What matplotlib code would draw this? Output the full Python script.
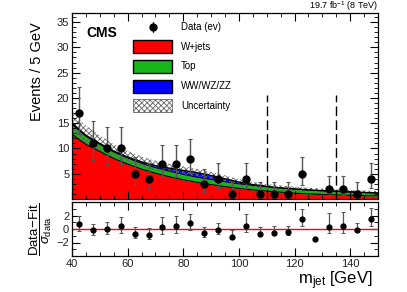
import matplotlib
matplotlib.use('Agg')
import matplotlib.pyplot as plt
from matplotlib.patches import Rectangle
from matplotlib.lines import Line2D
from matplotlib.ticker import MultipleLocator
import numpy as np

plt.rcParams['font.family'] = ['Liberation Sans', 'DejaVu Sans']
plt.rcParams['mathtext.fontset'] = 'custom'
plt.rcParams['mathtext.rm'] = 'Liberation Sans'
plt.rcParams['mathtext.it'] = 'Liberation Sans:italic'
plt.rcParams['hatch.linewidth'] = 0.6

# data in 5 GeV bins
bin_centers = [42.5, 47.5, 52.5, 57.5, 62.5, 67.5, 72.5, 77.5, 82.5, 87.5, 92.5,
               97.5, 102.5, 107.5, 112.5, 117.5, 122.5, 127.5, 132.5, 137.5, 142.5, 147.5]
data_counts = [17, 11, 10, 10, 5, 4, 7, 7, 8, 3, 4, 1, 4, 1, 1, 1, 5, 0, 2, 2, 1, 4]
data_err_lo = [4.12, 3.27, 3.11, 3.11, 2.16, 1.91, 2.58, 2.58, 2.77, 1.63, 1.91,
               0.83, 1.91, 0.83, 0.83, 0.83, 2.16, 0.0, 1.29, 1.29, 0.83, 1.91]
data_err_hi = [5.20, 4.42, 4.27, 4.27, 3.38, 3.16, 3.77, 3.77, 3.95, 2.92, 3.16,
               2.30, 3.16, 2.30, 2.30, 2.30, 3.38, 0.0, 2.64, 2.64, 2.30, 3.16]

# fitted background components
mass_grid = [40, 45, 50, 55, 60, 65, 70, 75, 80, 85, 90, 95, 100, 105, 110, 115,
             120, 125, 130, 135, 140, 145, 150]
wjets = [12.8, 10.8, 9.4, 8.0, 6.9, 5.9, 5.1, 4.4, 3.8, 3.3, 2.85, 2.45, 2.1, 1.8,
         1.55, 1.35, 1.15, 1.0, 0.9, 0.8, 0.72, 0.66, 0.6]
top = [1.9, 1.6, 1.4, 1.3, 1.2, 1.15, 1.1, 1.1, 1.05, 1.0, 1.0, 0.95, 0.9, 0.9,
       0.85, 0.8, 0.8, 0.75, 0.7, 0.7, 0.65, 0.6, 0.56]
diboson = [0.3, 0.2, 0.2, 0.2, 0.2, 0.3, 0.4, 0.6, 0.8, 0.9, 0.8, 0.6, 0.35, 0.15,
           0.1, 0.05, 0.05, 0.05, 0.05, 0.05, 0.05, 0.04, 0.04]
uncert = [2.3, 1.9, 1.6, 1.35, 1.2, 1.05, 0.95, 0.85, 0.8, 0.75, 0.7, 0.65, 0.6,
          0.55, 0.5, 0.48, 0.46, 0.44, 0.42, 0.4, 0.4, 0.38, 0.38]

# pulls
pulls = [0.74, -0.2, 0.0, 0.44, -0.74, -0.9, 0.3, 0.4, 0.83, -0.65, -0.1, -1.14,
         0.5, -0.7, -0.6, -0.5, 1.42, -1.43, 0.35, 0.44, -0.1, 1.42]
pull_err_lo = [1.0, 0.74, 0.73, 1.0, 0.64, 0.6, 1.0, 1.0, 1.0, 0.56, 0.6, 0.36,
               1.0, 0.36, 0.36, 0.36, 1.0, 0.0, 1.0, 1.0, 0.36, 1.0]
pull_err_hi = [1.26, 1.0, 1.0, 1.37, 1.0, 1.0, 1.46, 1.46, 1.43, 1.0, 1.0, 1.0,
               1.65, 1.0, 1.0, 1.0, 1.56, 0.0, 2.05, 2.05, 1.0, 1.65]

W, H = 407, 292
fig = plt.figure(figsize=(W / 100, H / 100), dpi=100)


def fx(px):
    return px / W


def fy(py):
    return 1 - py / H


ax = fig.add_axes([fx(72), fy(199), fx(378) - fx(72), fy(13) - fy(199)])
axr = fig.add_axes([fx(72), fy(256), fx(378) - fx(72), fy(202) - fy(256)])

m = np.array(mass_grid)
c1 = np.array(wjets)
c2 = c1 + np.array(top)
c3 = c2 + np.array(diboson)
u = np.array(uncert)

ax.fill_between(m, 0, c1, color='#ff0000', lw=0)
ax.fill_between(m, c1, c2, color='#17b517', lw=0)
ax.fill_between(m, c2, c3, color='#0000ff', lw=0)
ax.fill_between(m, c3 - u, c3 + u, facecolor='none', edgecolor='#666666',
                hatch='xxxxxx', lw=0)
ax.plot(m, c1, color='black', lw=0.8)
ax.plot(m, c2, color='black', lw=0.6)
ax.plot(m, c3, color='black', lw=1.0)

ax.vlines([110, 135], 0, 20.5, colors='black', lw=1.0, linestyles=(0, (7, 3)))

x = np.array(bin_centers)
y = np.array(data_counts, dtype=float)
keep = y > 0
ax.errorbar(x[keep], y[keep],
            yerr=[np.array(data_err_lo)[keep], np.array(data_err_hi)[keep]],
            fmt='o', color='black', ms=5, ecolor='#555555', elinewidth=1,
            capsize=1.5, capthick=0.8)

ax.set_xlim(40, 150)
ax.set_ylim(0, 36.8)
ax.xaxis.set_major_locator(MultipleLocator(20))
ax.xaxis.set_minor_locator(MultipleLocator(5))
ax.yaxis.set_major_locator(MultipleLocator(5))
ax.yaxis.set_minor_locator(MultipleLocator(1))
ax.set_yticks([5, 10, 15, 20, 25, 30, 35])
ax.tick_params(which='both', direction='in', top=True, right=True,
               labelbottom=False, labelsize=8, labelcolor='#222222', pad=2)
ax.tick_params(which='major', length=6, width=0.8)
ax.tick_params(which='minor', length=3, width=0.6)

# ratio panel
axr.axhline(0, color='red', lw=1)
axr.errorbar(bin_centers, pulls, yerr=[pull_err_lo, pull_err_hi], fmt='o',
             color='black', ms=3.5, ecolor='#555555', elinewidth=0.9,
             capsize=1.2, capthick=0.7)
axr.set_xlim(40, 150)
axr.set_ylim(-4, 4)
axr.xaxis.set_major_locator(MultipleLocator(20))
axr.xaxis.set_minor_locator(MultipleLocator(5))
axr.set_yticks([-2, 0, 2])
axr.yaxis.set_minor_locator(MultipleLocator(1))
axr.tick_params(which='both', direction='in', top=True, right=True,
                labelsize=8, labelcolor='#222222', pad=2)
axr.tick_params(which='major', length=6, width=0.8)
axr.tick_params(which='minor', length=3, width=0.6)

for a in (ax, axr):
    for s in a.spines.values():
        s.set_linewidth(0.9)

# labels
fig.text(fx(37), fy(72), 'Events / 5 GeV', rotation=90, ha='center',
         va='center', fontsize=10.5)
fig.text(fx(41), fy(229), r'$\dfrac{\mathrm{Data\!-\!Fit}}{\sigma_{\mathrm{data}}}$',
         rotation=90, ha='center', va='center', fontsize=9.5)
fig.text(fx(373), fy(281), r'm$_{\mathrm{jet}}$ [GeV]', ha='right',
         va='center', fontsize=12)
fig.text(fx(378), fy(6), r'19.7 fb$^{-1}$ (8 TeV)', ha='right', va='center',
         fontsize=6.5)
fig.text(fx(86), fy(33), 'CMS', fontweight='bold', ha='left', va='center',
         fontsize=10)

# legend
labels = ['Data (ev)', 'W+jets', 'Top', 'WW/WZ/ZZ', 'Uncertainty']
rows = [27, 46.5, 66, 86, 106]
fig.add_artist(Line2D([fx(152.5)] * 2, [fy(22), fy(32)], color='#333333',
                      lw=0.9))
fig.add_artist(Line2D([fx(152.5)], [fy(27)], marker='o', color='black', ms=5))
styles = [('#ff0000', None), ('#17b517', None), ('#0000ff', None),
          ('none', 'xxxxxx')]
for (fc, hatch), yy in zip(styles, rows[1:]):
    rect = Rectangle((fx(133), fy(yy + 6.5)), fx(39), 13 / H, facecolor=fc,
                     edgecolor='black' if hatch is None else '#666666',
                     hatch=hatch, lw=1.0 if hatch is None else 0.6,
                     transform=fig.transFigure)
    fig.add_artist(rect)
for lab, yy in zip(labels, rows):
    fig.text(fx(181), fy(yy), lab, ha='left', va='center', fontsize=7)

fig.savefig('out.png', dpi=100)
